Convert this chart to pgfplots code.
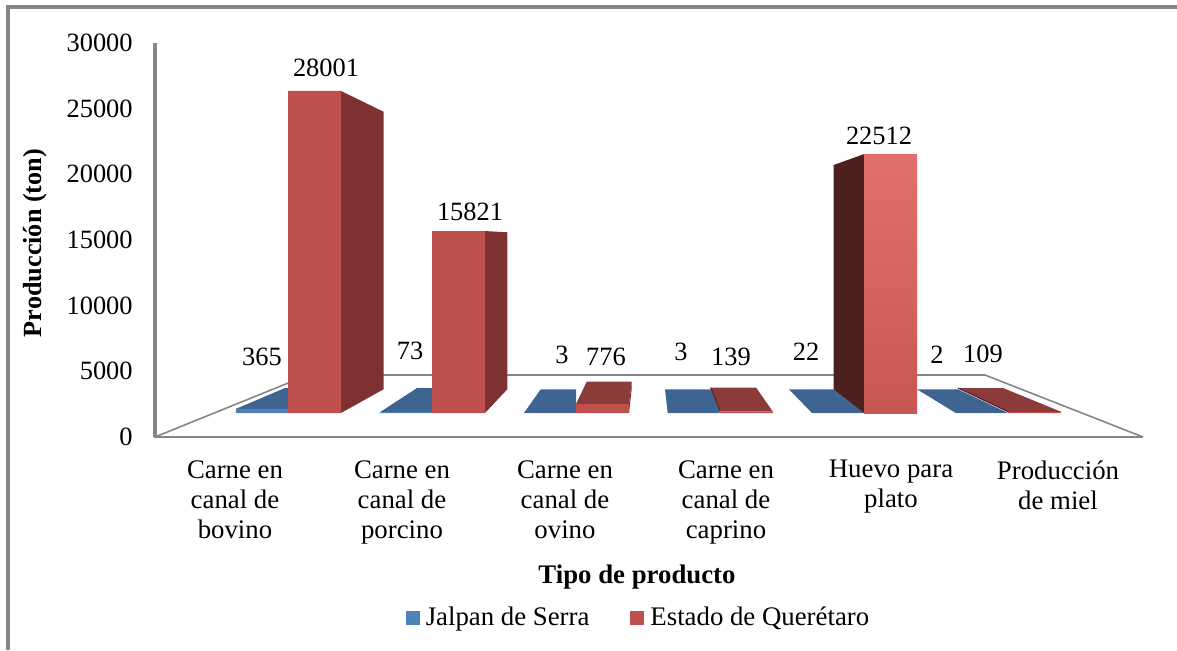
\documentclass[border=0pt]{standalone}
\usepackage{fontspec}
\setmainfont{Liberation Serif}
\usepackage{pgfplots}
\pgfplotsset{compat=1.18}
\usepackage{pgfplotstable}
\definecolor{gridc}{HTML}{868686}
\definecolor{blueF}{HTML}{4F81BD}
\definecolor{blueT}{HTML}{3E6491}
\definecolor{redF}{HTML}{C0504D}
\definecolor{redS}{HTML}{7D3130}
\definecolor{redT}{HTML}{8C3A3A}
\definecolor{redD}{HTML}{4E1F1F}
\definecolor{huevoTop}{HTML}{E26F6C}
\definecolor{huevoBot}{HTML}{C85754}
\pgfplotstableread{
x v
262 365
406 73
550 3
694 3
837.8 22
981.8 2
}\jalpan
\pgfplotstableread{
x v
314.5 28001
458.5 15821
602.5 776
746.5 139
1034.5 109
}\estado
\pgfplotstableread{
x v
890.5 22512
}\huevo
\newcommand{\chartfont}{\fontsize{13.2}{15}\selectfont}
\newcommand{\catfont}{\fontsize{13.4}{15}\selectfont}
\begin{document}
\begin{tikzpicture}
\useasboundingbox (0,0) rectangle (588.5pt,325pt);
% wall / frame axis: x in image columns, y on the printed value scale
\begin{axis}[
  at={(0,0)}, anchor=south west,
  scale only axis, width=588.5pt, height=325pt,
  xmin=0, xmax=1177, ymin=-16218, ymax=33274,
  clip=false,
  axis line style={draw=none},
  tick style={draw=none},
  major tick length=0pt,
  font=\chartfont,
  ytick={0,5000,10000,15000,20000,25000,30000},
  /pgf/number format/1000 sep={},
  /pgf/number format/assume math mode=true,
  scaled y ticks=false,
  yticklabel style={anchor=east, xshift=66.5pt, inner sep=0pt},
  xtick={235,402,565,726,891,1058},
  xticklabels={{Carne en\\canal de\\bovino},{Carne en\\canal de\\porcino},{Carne en\\canal de\\ovino},{Carne en\\canal de\\caprino},{Huevo para\\plato},{Producción\\de miel}},
  xticklabel style={align=center, anchor=north, yshift=95pt, inner sep=0pt, font=\catfont},
  xlabel={\catfont\textbf{Tipo de producto}},
  ylabel={\fontsize{13.1}{15}\selectfont\textbf{Producción (ton)}},
  every axis x label/.style={at={(axis cs:637,-10660)}, anchor=center},
  every axis y label/.style={at={(axis cs:35,14771)}, rotate=90, anchor=center},
]
\addplot[gridc, line width=2pt] coordinates {(8,-16218)(8,32740)(1177,32740)};
\addplot[gridc, line width=0.8pt] coordinates {(155,0)(308,4721)(985,4721)(1143,0)};
\addplot[gridc, line width=1.3pt] coordinates {(154,0)(1143,0)};
\addplot[gridc, line width=1.6pt] coordinates {(155,0)(155,30000)};
\end{axis}
% front plane of the bars: x in image columns, y in tons at the bars' own scale
\begin{axis}[
  at={(0,0)}, anchor=south west,
  scale only axis, width=588.5pt, height=325pt,
  xmin=0, xmax=1177, ymin=-20609, ymax=35913,
  clip=false,
  axis line style={draw=none},
  tick style={draw=none},
  xtick=\empty, ytick=\empty,
  font=\chartfont,
  legend style={at={(axis cs:639.5,-17826)}, anchor=center, draw=none, fill=none,
    legend columns=2, font=\catfont, inner sep=0pt,
    /tikz/every odd column/.append style={column sep=1pt},
    /tikz/every even column/.append style={column sep=18.5pt}},
  legend cell align=left,
  legend image code/.code={\fill[#1] (0pt,-3.5pt) rectangle (7pt,3.5pt);},
]
\addlegendimage{fill=blueF, draw=none}
\addlegendentry{Jalpan de Serra}
\addlegendimage{fill=redF, draw=none}
\addlegendentry{Estado de Querétaro}
% blue tops
\addplot[fill=blueT, draw=none, forget plot] coordinates {(236,365)(288,365)(288,2174)(285,2174)} -- cycle;
\addplot[fill=blueT, draw=none, forget plot] coordinates {(380,73)(432,73)(432,2174)(417,2174)} -- cycle;
\addplot[fill=blueT, draw=none, forget plot] coordinates {(524,3)(576,3)(576,2061)(540.7,2061)} -- cycle;
\addplot[fill=blueT, draw=none, forget plot] coordinates {(667.7,3)(720,3)(711,2061)(665,2061)} -- cycle;
\addplot[fill=blueT, draw=none, forget plot] coordinates {(811.7,22)(864,22)(834,2061)(789,2061)} -- cycle;
\addplot[fill=blueT, draw=none, forget plot] coordinates {(955.7,2)(1008,2)(958,2061)(917,2061)} -- cycle;
% blue fronts
\addplot[ybar, bar width=26.2pt, bar shift=0pt, fill=blueF, draw=none, forget plot] table[x=x,y=v] {\jalpan};
% red sides
\addplot[fill=redS, draw=none, forget plot] coordinates {(341,0)(341,28001)(383.5,26201)(383.5,2061)} -- cycle;
\addplot[fill=redS, draw=none, forget plot] coordinates {(485,0)(485,15821)(507.3,15714)(507.3,2061)} -- cycle;
\addplot[fill=redS, draw=none, forget plot] coordinates {(629,0)(629,776)(631.7,2722)(631.7,2061)} -- cycle;
\addplot[fill=redD, draw=none, forget plot] coordinates {(864,0)(864,22512)(833.7,21566)(833.7,2061)} -- cycle;
% red tops
\addplot[fill=redT, draw=none, forget plot] coordinates {(576,776)(629,776)(631.7,2722)(586.7,2722)} -- cycle;
\addplot[fill=redT, draw=none, forget plot] coordinates {(720,139)(772.7,139)(756,2217)(710.7,2217)} -- cycle;
\addplot[fill=redT, draw=none, forget plot] coordinates {(1008,109)(1061,109)(1003,2174)(958,2174)} -- cycle;
\addplot[redD, line width=0.5pt, forget plot] coordinates {(720,139)(710.7,2217)};
\addplot[redD, line width=0.5pt, forget plot] coordinates {(1008,109)(958,2174)};
% red fronts
\addplot[ybar, bar width=26.5pt, bar shift=0pt, fill=redF, draw=none, forget plot] table[x=x,y=v] {\estado};
\addplot[ybar, bar width=26.5pt, bar shift=0pt, top color=huevoTop, bottom color=huevoBot, draw=none, forget plot] table[x=x,y=v] {\huevo};
% data labels
\node[anchor=center] at (axis cs:326,30001) {28001};
\node[anchor=center] at (axis cs:262,4870) {365};
\node[anchor=center] at (axis cs:410,5391) {73};
\node[anchor=center] at (axis cs:470,17479) {15821};
\node[anchor=center] at (axis cs:562,5044) {3};
\node[anchor=center] at (axis cs:606,4870) {776};
\node[anchor=center] at (axis cs:681,5305) {3};
\node[anchor=center] at (axis cs:731,4870) {139};
\node[anchor=center] at (axis cs:806,5305) {22};
\node[anchor=center] at (axis cs:879,24088) {22512};
\node[anchor=center] at (axis cs:937,5044) {2};
\node[anchor=center] at (axis cs:983,5131) {109};
\end{axis}
\end{tikzpicture}
\end{document}
